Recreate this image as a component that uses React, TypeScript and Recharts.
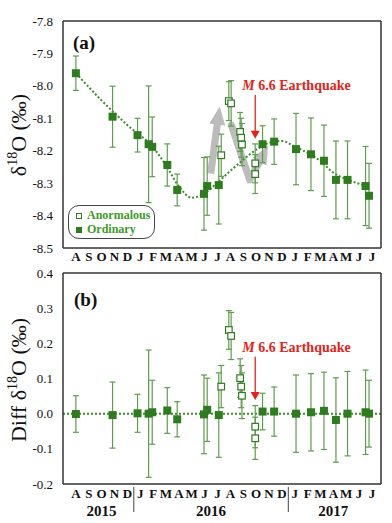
import React from 'react';
import {
  ComposedChart, Scatter, Line, XAxis, YAxis, ErrorBar, ReferenceLine, Legend,
} from 'recharts';

const GREEN = '#2e7b20';
const GREEN_BAR = '#5d9e4c';
const GREEN_LINE = '#3b8c2b';
const GREEN_TEXT = '#3f9a2c';
const RED = '#e2231a';
const GREY_ARROW = '#bcbcbc';
const FRAME = '#333333';
const SERIF = '"Liberation Serif", "Times New Roman", serif';

// months counted from Aug 2015 (0) to Jul 2017 (23)
const MONTH_LETTERS = ['A', 'S', 'O', 'N', 'D', 'J', 'F', 'M', 'A', 'M', 'J', 'J', 'A', 'S', 'O', 'N', 'D', 'J', 'F', 'M', 'A', 'M', 'J', 'J'];
const MONTH_TICKS = MONTH_LETTERS.map((_, i) => i);
const X_DOMAIN = [-1, 23.7];
const YEAR_LABELS = ['2015', '2016', '2017'];
const YEAR_CENTERS = [2, 10.5, 20];
const YEAR_BREAKS = [4.5, 16.5];

// ordinary samples
const ORD_MONTH = [0, 2.85, 4.79, 5.65, 5.93, 7.1, 7.87, 9.95, 10.2, 11.1, 14.5, 15.4, 17.1, 18.26, 19.27, 20.2, 21.1, 22.5, 22.77];
const ORD_D18O = [-7.961, -8.095, -8.152, -8.18, -8.188, -8.244, -8.321, -8.333, -8.309, -8.306, -8.18, -8.172, -8.195, -8.211, -8.231, -8.29, -8.29, -8.309, -8.339];
const ORD_D18O_ERR = [0.053, 0.094, 0.052, 0.18, 0.092, 0.065, 0.049, 0.112, 0.09, 0.12, 0.057, 0.07, 0.11, 0.112, 0.11, 0.12, 0.12, 0.122, 0.1];
const ORD_DIFF = [-0.001, -0.004, 0.001, 0.0, 0.004, 0.009, -0.016, -0.002, 0.011, -0.004, 0.006, 0.006, 0.0, 0.004, 0.008, -0.018, 0.0, 0.004, 0.0];
const ORD_DIFF_ERR = [0.052, 0.094, 0.054, 0.181, 0.091, 0.065, 0.05, 0.112, 0.09, 0.12, 0.052, 0.07, 0.11, 0.11, 0.11, 0.12, 0.12, 0.12, 0.095];

// anomalous samples
const ANO_MONTH = [11.29, 11.88, 12.06, 12.76, 12.84, 12.9, 13.93, 13.93];
const ANO_D18O = [-8.214, -8.047, -8.054, -8.142, -8.16, -8.181, -8.239, -8.272];
const ANO_D18O_ERR = [0.065, 0.06, 0.07, 0.06, 0.06, 0.065, 0.06, 0.06];
const ANO_DIFF = [0.077, 0.238, 0.221, 0.101, 0.077, 0.051, -0.037, -0.07];
const ANO_DIFF_ERR = [0.06, 0.055, 0.067, 0.055, 0.06, 0.065, 0.06, 0.06];

// fitted seasonal trend through the ordinary samples
const TREND_MONTH = [0, 2, 4, 6, 7, 8, 9, 10, 11, 12, 13, 14, 15, 16, 17, 18, 19, 20, 21, 22, 22.77];
const TREND_D18O = [-7.961, -8.045, -8.121, -8.19, -8.245, -8.31, -8.345, -8.332, -8.298, -8.262, -8.228, -8.197, -8.176, -8.17, -8.187, -8.207, -8.232, -8.268, -8.288, -8.302, -8.312];

const D18O_TICKS = [-8.5, -8.4, -8.3, -8.2, -8.1, -8.0, -7.9, -7.8];
const DIFF_TICKS = [-0.2, -0.1, 0, 0.1, 0.2, 0.3, 0.4];

// annotations (data coordinates)
const UP_ARROW = [{ x: 10.47, y: -8.27 }, { x: 11.17, y: -8.064 }];
const V_ARROW = [{ x: 12.08, y: -8.121 }, { x: 13.5, y: -8.29 }, { x: 14.92, y: -8.185 }];
const QUAKE_TOP = [{ x: 13.93, y: -8.028 }, { x: 13.93, y: -8.163 }];
const QUAKE_BOTTOM = [{ x: 13.93, y: 0.162 }, { x: 13.93, y: 0.039 }];
const LEGEND_NAMES = ['Anormalous', 'Ordinary'];

const ordTop = ORD_MONTH.map((m, i) => ({ m, v: ORD_D18O[i], e: ORD_D18O_ERR[i] }));
const anoTop = ANO_MONTH.map((m, i) => ({ m, v: ANO_D18O[i], e: ANO_D18O_ERR[i] }));
const ordBottom = ORD_MONTH.map((m, i) => ({ m, v: ORD_DIFF[i], e: ORD_DIFF_ERR[i] }));
const anoBottom = ANO_MONTH.map((m, i) => ({ m, v: ANO_DIFF[i], e: ANO_DIFF_ERR[i] }));
const trend = TREND_MONTH.map((m, i) => ({ m, v: TREND_D18O[i] }));

const CHART_W = 392;
const Y_AXIS_W = 63;
const RIGHT_M = 11;
const MONTH_PX = (CHART_W - Y_AXIS_W - RIGHT_M) / (X_DOMAIN[1] - X_DOMAIN[0]);

const FilledSquare = (p: any) => (
  <rect x={p.cx - 4} y={p.cy - 4} width={8} height={8} fill={GREEN} />
);
const OpenSquare = (p: any) => (
  <rect x={p.cx - 3.3} y={p.cy - 3.3} width={6.6} height={6.6} fill="#fff" stroke={GREEN} strokeWidth={1.2} />
);

function MonthTick({ x, y, payload, withYears }: any) {
  const v = payload.value;
  return (
    <g>
      <text x={x} y={y} dy="0.71em" textAnchor="middle" fontFamily={SERIF} fontWeight="bold" fontSize={13} fill="#111">
        {MONTH_LETTERS[v]}
      </text>
      {withYears && YEAR_BREAKS.map(b => (Math.floor(b) === v ? (
        <line key={b} x1={x + (b - v) * MONTH_PX} x2={x + (b - v) * MONTH_PX} y1={y - 2} y2={y + 23}
          stroke="#444" strokeWidth={1} />
      ) : null))}
      {withYears && YEAR_CENTERS.map((c, i) => (Math.floor(c) === v ? (
        <text key={c} x={x + (c - v) * MONTH_PX} y={y + 27} textAnchor="middle" fontFamily={SERIF}
          fontWeight="bold" fontSize={15} fill="#111">{YEAR_LABELS[i]}</text>
      ) : null))}
    </g>
  );
}

function polyPoints(pts: number[][]) {
  return pts.map(p => `${p[0]},${p[1]}`).join(' ');
}

// thick grey arrow, optional head
function GreyArrow({ x1, y1, x2, y2, head }: any) {
  const dx = x2 - x1, dy = y2 - y1;
  const len = Math.hypot(dx, dy) || 1;
  const ux = dx / len, uy = dy / len, nx = -uy, ny = ux;
  const bw = 3.6, hw = 8, hl = head ? 18 : 0;
  const bx = x2 - ux * hl, by = y2 - uy * hl;
  if (!head) {
    return <line x1={x1} y1={y1} x2={x2} y2={y2} stroke={GREY_ARROW} strokeWidth={bw * 2} strokeLinecap="round" />;
  }
  return (
    <polygon
      fill={GREY_ARROW}
      points={polyPoints([
        [x1 + nx * bw, y1 + ny * bw], [bx + nx * bw, by + ny * bw], [bx + nx * hw, by + ny * hw],
        [x2, y2], [bx - nx * hw, by - ny * hw], [bx - nx * bw, by - ny * bw], [x1 - nx * bw, y1 - ny * bw],
      ])}
    />
  );
}

function QuakeArrow({ x1, y1, x2, y2 }: any) {
  return (
    <g>
      <text x={x1 - 13} y={y1 - 5} fontFamily={SERIF} fontWeight="bold" fontSize={14} fill={RED}>
        <tspan fontStyle="italic">M</tspan> 6.6 Earthquake
      </text>
      <line x1={x1} y1={y1} x2={x2} y2={y2 - 7} stroke={RED} strokeWidth={1.3} />
      <polygon fill={RED} points={polyPoints([[x2 - 4.5, y2 - 8], [x2 + 4.5, y2 - 8], [x2, y2]])} />
    </g>
  );
}

function LegendBox() {
  const sq = (filled: boolean) => (
    <span style={{
      display: 'inline-block', width: 6, height: 6, marginRight: 5, verticalAlign: 'middle',
      border: `1.2px solid ${GREEN}`, background: filled ? GREEN : '#fff', boxSizing: 'border-box',
    }} />
  );
  return (
    <div style={{
      width: 87, height: 34, border: '1.3px solid #444', borderRadius: 11, boxSizing: 'border-box',
      fontFamily: SERIF, fontWeight: 'bold', fontSize: 12, color: GREEN_TEXT, padding: '2px 0 0 7px', lineHeight: '14px',
    }}>
      {LEGEND_NAMES.map((n, i) => (
        <div key={n}>{sq(i === 1)}{n}</div>
      ))}
    </div>
  );
}

const frameStroke = { stroke: FRAME, strokeWidth: 1.5 };
const tickText = { fill: '#111', fontSize: 13, fontFamily: SERIF };

function innerTickAxes(yDomain: number[], yTicks: number[]) {
  return [
    <XAxis key="xt" xAxisId="top" orientation="top" mirror type="number" domain={X_DOMAIN} ticks={MONTH_TICKS}
      allowDataOverflow tick={false} height={1} tickSize={5} axisLine={frameStroke} tickLine={{ stroke: FRAME, strokeWidth: 1 }} />,
    <XAxis key="xb" xAxisId="inner" orientation="bottom" mirror type="number" domain={X_DOMAIN} ticks={MONTH_TICKS}
      allowDataOverflow tick={false} height={1} tickSize={4} axisLine={false} tickLine={{ stroke: FRAME, strokeWidth: 1 }} />,
    <YAxis key="yr" yAxisId="r" orientation="right" mirror type="number" domain={yDomain} ticks={yTicks}
      allowDataOverflow tick={false} width={1} tickSize={5} axisLine={frameStroke} tickLine={{ stroke: FRAME, strokeWidth: 1 }} />,
  ];
}

function TopPanel() {
  return (
    <ComposedChart width={CHART_W} height={264} margin={{ top: 21, right: RIGHT_M, left: 0, bottom: 2 }}>
      <XAxis dataKey="m" type="number" domain={X_DOMAIN} ticks={MONTH_TICKS} interval={0} allowDataOverflow
        height={14} tickSize={4} tickMargin={0} tickLine={false} axisLine={frameStroke} tick={<MonthTick />} />
      <YAxis dataKey="v" type="number" domain={[-8.5, -7.8]} ticks={D18O_TICKS} interval={0} allowDataOverflow
        width={Y_AXIS_W} tickLine={false} tickMargin={4} axisLine={frameStroke} tick={tickText}
        tickFormatter={(v: number) => v.toFixed(1)} />
      {innerTickAxes([-8.5, -7.8], D18O_TICKS)}
      <ReferenceLine segment={UP_ARROW} ifOverflow="visible" shape={(p: any) => <GreyArrow {...p} head />} />
      <ReferenceLine segment={[V_ARROW[0], V_ARROW[1]]} ifOverflow="visible" shape={(p: any) => <GreyArrow {...p} head={false} />} />
      <ReferenceLine segment={[V_ARROW[1], V_ARROW[2]]} ifOverflow="visible" shape={(p: any) => <GreyArrow {...p} head />} />
      <Line data={trend} dataKey="v" type="monotone" stroke={GREEN_LINE} strokeWidth={2} strokeDasharray="2 2"
        dot={false} isAnimationActive={false} />
      <Scatter name="Ordinary" data={ordTop} shape={FilledSquare} isAnimationActive={false}>
        <ErrorBar dataKey="e" direction="y" width={3} stroke={GREEN_BAR} strokeWidth={1.2} />
      </Scatter>
      <Scatter name="Anormalous" data={anoTop} shape={OpenSquare} isAnimationActive={false}>
        <ErrorBar dataKey="e" direction="y" width={3} stroke={GREEN_BAR} strokeWidth={1.2} />
      </Scatter>
      <ReferenceLine segment={QUAKE_TOP} ifOverflow="visible" shape={(p: any) => <QuakeArrow {...p} />} />
      <Legend content={() => <LegendBox />} layout="horizontal" verticalAlign="middle" align="center"
        wrapperStyle={{ left: 68, top: 205, width: 87, height: 34 }} />
      <text x={73} y={49} fontFamily={SERIF} fontWeight="bold" fontSize={19} fill="#111">(a)</text>
      <text transform="rotate(-90, 26, 135)" x={26} y={135} textAnchor="middle" fontFamily={SERIF} fontSize={22} fill="#111">
        δ<tspan fontSize={14} dy={-9}>18</tspan><tspan dy={9}>O (‰)</tspan>
      </text>
    </ComposedChart>
  );
}

function BottomPanel() {
  return (
    <ComposedChart width={CHART_W} height={261} margin={{ top: 11, right: RIGHT_M, left: 0, bottom: 3 }}>
      <XAxis dataKey="m" type="number" domain={X_DOMAIN} ticks={MONTH_TICKS} interval={0} allowDataOverflow
        height={36} tickSize={5} tickMargin={0} tickLine={false} axisLine={frameStroke} tick={<MonthTick withYears />} />
      <YAxis dataKey="v" type="number" domain={[-0.2, 0.4]} ticks={DIFF_TICKS} interval={0} allowDataOverflow
        width={Y_AXIS_W} tickLine={false} tickMargin={4} axisLine={frameStroke} tick={tickText}
        tickFormatter={(v: number) => v.toFixed(1)} />
      {innerTickAxes([-0.2, 0.4], DIFF_TICKS)}
      <ReferenceLine y={0} stroke={GREEN_LINE} strokeWidth={2} strokeDasharray="2 2" />
      <Scatter name="Ordinary" data={ordBottom} shape={FilledSquare} isAnimationActive={false}>
        <ErrorBar dataKey="e" direction="y" width={3} stroke={GREEN_BAR} strokeWidth={1.2} />
      </Scatter>
      <Scatter name="Anormalous" data={anoBottom} shape={OpenSquare} isAnimationActive={false}>
        <ErrorBar dataKey="e" direction="y" width={3} stroke={GREEN_BAR} strokeWidth={1.2} />
      </Scatter>
      <ReferenceLine segment={QUAKE_BOTTOM} ifOverflow="visible" shape={(p: any) => <QuakeArrow {...p} />} />
      <text x={74} y={44} fontFamily={SERIF} fontWeight="bold" fontSize={19} fill="#111">(b)</text>
      <text transform="rotate(-90, 26, 118)" x={26} y={118} textAnchor="middle" fontFamily={SERIF} fontSize={22} fill="#111">
        Diff δ<tspan fontSize={14} dy={-9}>18</tspan><tspan dy={9}>O (‰)</tspan>
      </text>
    </ComposedChart>
  );
}

export default function App() {
  return (
    <div style={{ position: 'absolute', left: 0, top: 0, width: 392, height: 523, background: '#fff' }}>
      <div style={{ position: 'absolute', left: 0, top: 0 }}>
        <TopPanel />
      </div>
      <div style={{ position: 'absolute', left: 0, top: 262 }}>
        <BottomPanel />
      </div>
    </div>
  );
}
